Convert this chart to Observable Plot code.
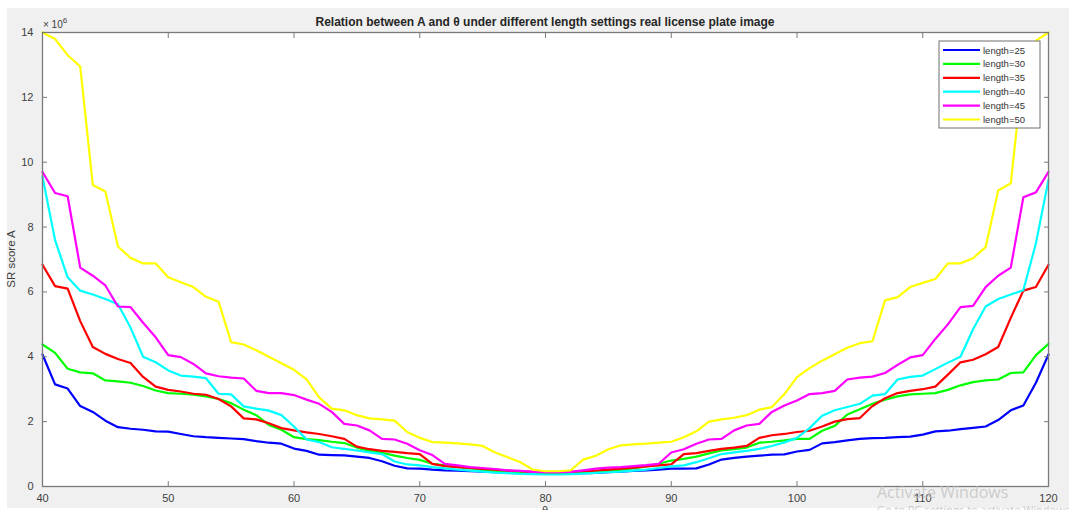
<!DOCTYPE html>
<html>
<head>
<meta charset="utf-8">
<script src="https://cdn.jsdelivr.net/npm/d3@7"></script>
<script src="https://cdn.jsdelivr.net/npm/@observablehq/plot@0.6"></script>
<style>
  body { margin: 0; background: #ffffff; }
  #chart svg { display: block; }
</style>
</head>
<body>
<div id="chart"></div>
<script>
// ---- data (scores in units of 10^6) ----
const theta = d3.range(40, 121);

const len25 = [4.07, 3.15, 3.02, 2.48, 2.3, 2.03, 1.83, 1.78, 1.75, 1.7,
  1.69, 1.62, 1.55, 1.52, 1.5, 1.48, 1.46, 1.4, 1.35, 1.32,
  1.17, 1.1, 0.98, 0.97, 0.96, 0.92, 0.88, 0.78, 0.64, 0.56,
  0.55, 0.52, 0.5, 0.49, 0.47, 0.46, 0.44, 0.42, 0.41, 0.4,
  0.39, 0.39, 0.4, 0.41, 0.42, 0.44, 0.46, 0.48, 0.5, 0.52,
  0.55, 0.55, 0.56, 0.68, 0.83, 0.88, 0.92, 0.95, 0.98, 0.99,
  1.08, 1.13, 1.33, 1.37, 1.42, 1.47, 1.49, 1.5, 1.52, 1.54,
  1.6, 1.7, 1.72, 1.77, 1.81, 1.85, 2.05, 2.35, 2.5, 3.2,
  4.07];

const len30 = [4.38, 4.12, 3.63, 3.52, 3.49, 3.27, 3.24, 3.2, 3.1, 2.96,
  2.88, 2.86, 2.83, 2.78, 2.7, 2.57, 2.37, 2.2, 1.9, 1.75,
  1.52, 1.46, 1.43, 1.38, 1.34, 1.2, 1.1, 1.04, 0.95, 0.88,
  0.82, 0.7, 0.65, 0.6, 0.56, 0.51, 0.47, 0.44, 0.42, 0.41,
  0.4, 0.4, 0.41, 0.43, 0.45, 0.48, 0.52, 0.56, 0.62, 0.7,
  0.8, 0.85, 0.92, 1.02, 1.11, 1.15, 1.2, 1.35, 1.38, 1.42,
  1.47, 1.47, 1.72, 1.87, 2.22, 2.38, 2.55, 2.68, 2.78, 2.84,
  2.86, 2.88, 2.98, 3.12, 3.22, 3.27, 3.3, 3.5, 3.52, 4.05,
  4.4];

const len35 = [6.84, 6.18, 6.1, 5.1, 4.3, 4.09, 3.93, 3.81, 3.38, 3.08,
  2.98, 2.93, 2.86, 2.83, 2.7, 2.47, 2.1, 2.07, 1.95, 1.8,
  1.73, 1.67, 1.62, 1.55, 1.47, 1.23, 1.15, 1.1, 1.07, 1.03,
  1.0, 0.7, 0.63, 0.6, 0.57, 0.54, 0.52, 0.49, 0.47, 0.45,
  0.44, 0.44, 0.45, 0.47, 0.49, 0.52, 0.55, 0.58, 0.62, 0.65,
  0.68, 1.0, 1.03, 1.1, 1.16, 1.2, 1.25, 1.5, 1.58, 1.62,
  1.68, 1.72, 1.85, 2.0, 2.08, 2.11, 2.48, 2.72, 2.88, 2.95,
  3.0, 3.08, 3.45, 3.83, 3.91, 4.08, 4.3, 5.2, 6.04, 6.15,
  6.84];

const len40 = [9.55, 7.6, 6.45, 6.04, 5.92, 5.78, 5.62, 4.9, 4.0, 3.83,
  3.58, 3.42, 3.39, 3.34, 2.86, 2.84, 2.47, 2.4, 2.34, 2.2,
  1.85, 1.45, 1.37, 1.21, 1.16, 1.11, 1.05, 1.0, 0.77, 0.68,
  0.65, 0.6, 0.56, 0.52, 0.49, 0.46, 0.43, 0.41, 0.39, 0.38,
  0.37, 0.37, 0.38, 0.4, 0.42, 0.44, 0.46, 0.49, 0.52, 0.57,
  0.62, 0.65, 0.75, 0.87, 1.0, 1.05, 1.1, 1.16, 1.25, 1.36,
  1.5, 1.8, 2.18, 2.35, 2.45, 2.55, 2.8, 2.85, 3.3, 3.38,
  3.42, 3.62, 3.82, 4.0, 4.85, 5.55, 5.78, 5.92, 6.05, 7.5,
  9.45];

const len45 = [9.7, 9.05, 8.95, 6.75, 6.5, 6.2, 5.55, 5.53, 5.05, 4.6,
  4.05, 3.99, 3.78, 3.49, 3.4, 3.36, 3.33, 2.95, 2.88, 2.88,
  2.82, 2.68, 2.55, 2.3, 1.93, 1.88, 1.73, 1.47, 1.45, 1.32,
  1.12, 0.97, 0.7, 0.65, 0.6, 0.57, 0.54, 0.5, 0.48, 0.45,
  0.44, 0.44, 0.45, 0.5, 0.55, 0.58, 0.6, 0.63, 0.66, 0.7,
  1.05, 1.15, 1.32, 1.45, 1.47, 1.73, 1.88, 1.93, 2.3, 2.5,
  2.65, 2.85, 2.88, 2.95, 3.3, 3.36, 3.39, 3.5, 3.75, 3.98,
  4.05, 4.55, 5.0, 5.53, 5.57, 6.15, 6.5, 6.75, 8.92, 9.07,
  9.7];

const len50 = [14.0, 13.8, 13.3, 12.95, 9.3, 9.1, 7.4, 7.05, 6.88, 6.88,
  6.45, 6.3, 6.15, 5.85, 5.7, 4.45, 4.38, 4.2, 4.0, 3.8,
  3.6, 3.3, 2.75, 2.4, 2.35, 2.2, 2.1, 2.07, 2.03, 1.68,
  1.5, 1.37, 1.35, 1.33, 1.3, 1.25, 1.05, 0.9, 0.75, 0.52,
  0.47, 0.47, 0.5, 0.83, 0.95, 1.15, 1.27, 1.3, 1.32, 1.35,
  1.38, 1.52, 1.7, 2.0, 2.07, 2.12, 2.2, 2.37, 2.45, 2.85,
  3.37, 3.65, 3.88, 4.08, 4.28, 4.42, 4.48, 5.74, 5.84, 6.15,
  6.28, 6.4, 6.88, 6.88, 7.04, 7.38, 9.13, 9.35, 12.95, 13.75,
  14.0];

const seriesNames = ["length=25", "length=30", "length=35", "length=40", "length=45", "length=50"];
const seriesValues = [len25, len30, len35, len40, len45, len50];
const seriesColors = ["#0000ff", "#00ff00", "#ff0000", "#00ffff", "#ff00ff", "#ffff00"];
const xTicks = [40, 50, 60, 70, 80, 90, 100, 110, 120];
const yTicks = [0, 2, 4, 6, 8, 10, 12, 14];

const titleText = "Relation between A and \u03B8 under different length settings real license plate image";
const yLabel = "SR score A";
const xLabel = "\u03B8";

// ---- build table ----
const rows = [];
seriesValues.forEach((vals, i) => {
  vals.forEach((v, j) => rows.push({theta: theta[j], A: v, series: seriesNames[i]}));
});

const W = 1069, H = 510;
const FONT = "'Liberation Sans', Arial, Helvetica, sans-serif";
const axisCol = "#7a7a7a";
const textCol = "#404040";

const chart = Plot.plot({
  width: W,
  height: H,
  marginLeft: 42,
  marginRight: 21,
  marginTop: 32,
  marginBottom: 24,
  style: { fontFamily: FONT, fontSize: "11px", color: textCol, background: "transparent", overflow: "visible" },
  x: { domain: [40, 120], label: null },
  y: { domain: [0, 14], label: null },
  color: { domain: seriesNames, range: seriesColors },
  marks: [
    Plot.frame({ fill: "white" }),
    Plot.line(rows, { x: "theta", y: "A", z: "series", stroke: "series", strokeWidth: 2.2 }),
    Plot.frame({ stroke: axisCol, strokeWidth: 1.3 }),
    // inward tick marks on all four sides
    Plot.axisX({ anchor: "bottom", ticks: xTicks, tickSize: -5, tickFormat: () => "", stroke: axisCol }),
    Plot.axisX({ anchor: "top", ticks: xTicks, tickSize: -5, tickFormat: () => "", stroke: axisCol }),
    Plot.axisY({ anchor: "left", ticks: yTicks, tickSize: -5, tickFormat: () => "", stroke: axisCol }),
    Plot.axisY({ anchor: "right", ticks: yTicks, tickSize: -5, tickFormat: () => "", stroke: axisCol }),
    // tick labels
    Plot.axisX({ anchor: "bottom", ticks: xTicks, tickSize: 0, tickPadding: 8, tickFormat: d => String(d), fill: textCol }),
    Plot.axisY({ anchor: "left", ticks: yTicks, tickSize: 0, tickPadding: 9, tickFormat: d => String(d), fill: textCol })
  ]
});

document.getElementById("chart").appendChild(chart);

// ---- figure decorations ----
const svg = d3.select(chart);
// gray figure background
svg.insert("rect", ":first-child")
  .attr("x", 7).attr("y", 8).attr("width", W - 7).attr("height", H - 10)
  .attr("fill", "#f0f0f0");

const deco = svg.append("g").attr("font-family", FONT).attr("text-anchor", "start");

// title
deco.append("text")
  .attr("x", 545).attr("y", 26)
  .attr("text-anchor", "middle")
  .attr("font-size", 12).attr("font-weight", "bold")
  .attr("fill", "#262626")
  .text(titleText);

// exponent label
const expo = deco.append("text").attr("x", 43).attr("y", 28)
  .attr("text-anchor", "start").attr("font-size", 10).attr("fill", textCol);
expo.append("tspan").text("\u00D7 10");
expo.append("tspan").attr("dy", -5).attr("font-size", 8).text("6");

// y label
deco.append("text")
  .attr("transform", "translate(15,259) rotate(-90)")
  .attr("text-anchor", "middle")
  .attr("font-size", 11.5)
  .attr("fill", textCol)
  .text(yLabel);

// x label (mostly below the visible area, as in the reference)
deco.append("text")
  .attr("x", 545).attr("y", 514)
  .attr("text-anchor", "middle")
  .attr("font-size", 11).attr("fill", textCol)
  .text(xLabel);

// legend
const lg = deco.append("g");
lg.append("rect")
  .attr("x", 939).attr("y", 41).attr("width", 101).attr("height", 87)
  .attr("fill", "white").attr("stroke", "#6e6e6e").attr("stroke-width", 1);
seriesNames.forEach((name, i) => {
  const yy = 50 + i * 13.9;
  lg.append("line")
    .attr("x1", 943).attr("x2", 980).attr("y1", yy).attr("y2", yy)
    .attr("stroke", seriesColors[i]).attr("stroke-width", 2.2);
  lg.append("text")
    .attr("x", 983).attr("y", yy + 3.5)
    .attr("text-anchor", "start")
    .attr("font-size", 9.5).attr("fill", "#333")
    .text(name);
});

// faint OS watermark present in the screenshot
deco.append("text")
  .attr("x", 877).attr("y", 498)
  .attr("text-anchor", "start")
  .attr("font-size", 16).attr("fill", "#c4c4c4").attr("fill-opacity", 0.85)
  .attr("font-family", "'Open Sans', 'DejaVu Sans', sans-serif")
  .text("Activate Windows");
deco.append("text")
  .attr("x", 877).attr("y", 514)
  .attr("text-anchor", "start")
  .attr("font-size", 11).attr("fill", "#c4c4c4").attr("fill-opacity", 0.85)
  .attr("font-family", "'Open Sans', 'DejaVu Sans', sans-serif")
  .text("Go to PC settings to activate Windows.");
</script>
</body>
</html>
